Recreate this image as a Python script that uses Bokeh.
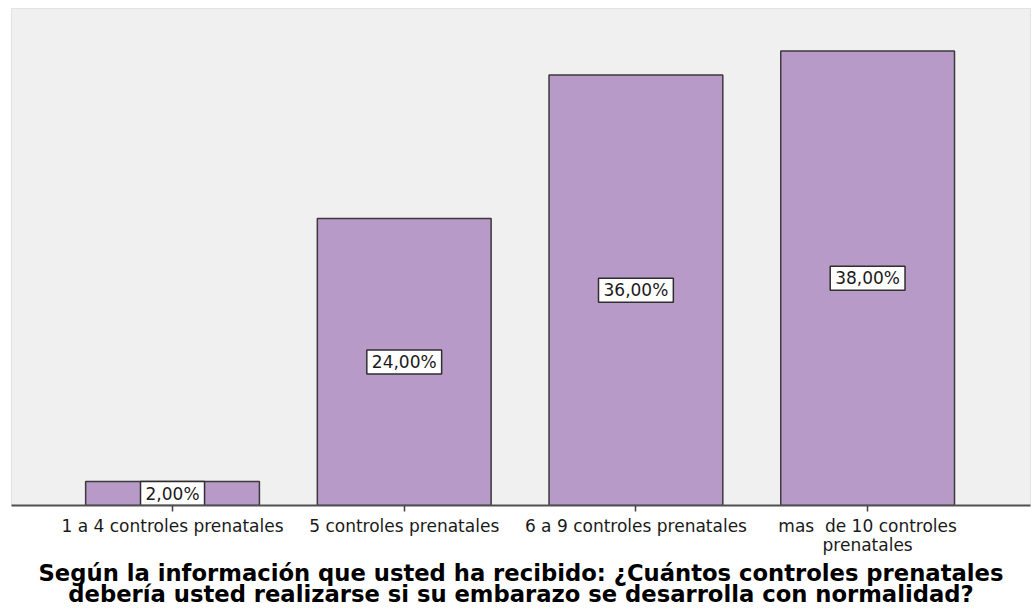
from bokeh.plotting import figure
from bokeh.models import ColumnDataSource, FixedTicker, Range1d
from bokeh.core.properties import value
from bokeh.embed import file_html
from bokeh.resources import INLINE

# Survey answers: number of prenatal check-ups considered necessary
categories = [
    "1 a 4 controles prenatales",
    "5 controles prenatales",
    "6 a 9 controles prenatales",
    "mas\u00a0 de 10 controles\nprenatales",
]
percentages = [2.0, 24.0, 36.0, 38.0]

title_lines = [
    "Según la información que usted ha recibido: ¿Cuántos controles prenatales",
    "debería usted realizarse si su embarazo se desarrolla con normalidad?",
]

positions = list(range(len(categories)))
labels = [f"{v:.2f}".replace(".", ",") + "%" for v in percentages]

source = ColumnDataSource(data=dict(
    x=positions,
    top=percentages,
    mid=[v / 2 for v in percentages],
    label=labels,
))

p = figure(
    width=1032, height=616,
    x_range=Range1d(-0.695, 3.703),
    y_range=Range1d(0, 41.55),
    output_backend="svg",
    toolbar_location=None,
    min_border_left=11, min_border_right=2,
    min_border_top=8, min_border_bottom=111,
)

p.background_fill_color = "#f0f0f0"
p.border_fill_color = "#ffffff"
p.outline_line_color = "#e2e2e2"
p.outline_line_width = 1
p.grid.visible = False
p.yaxis.visible = False

p.vbar(x="x", top="top", bottom=0, width=0.75, source=source,
       fill_color="#b89ac8", line_color="#3a3a3a", line_width=1.5)

# value labels in white boxes, centred halfway up each bar
p.text(
    x="x", y="mid", text="label", source=source,
    text_align="center", text_baseline="middle",
    text_font=value("DejaVu Sans"), text_font_size="17px", text_color="#1a1a1a",
    background_fill_color="#ffffff", border_line_color="#2e2e2e",
    border_line_width=1.5, padding=dict(left=5, right=5, top=2, bottom=2),
)

xa = p.xaxis[0]
xa.ticker = FixedTicker(ticks=positions)
xa.major_label_overrides = {i: c for i, c in zip(positions, categories)}
xa.minor_tick_line_color = None
xa.axis_line_color = "#505050"
xa.axis_line_width = 2
xa.major_tick_line_color = "#404040"
xa.major_tick_line_width = 1.5
xa.major_tick_in = 0
xa.major_tick_out = 6
xa.major_label_standoff = 4
xa.major_label_text_font = "DejaVu Sans"
xa.major_label_text_font_size = "17px"
xa.major_label_text_color = "#1a1a1a"
xa.major_label_text_line_height = 0.95
xa.axis_label = "\n".join(title_lines)
xa.axis_label_standoff = 2
xa.axis_label_text_font = "DejaVu Sans"
xa.axis_label_text_font_style = "bold"
xa.axis_label_text_font_size = "22.7px"
xa.axis_label_text_color = "#000000"
xa.axis_label_text_line_height = 0.84

open("out.html", "w").write(file_html(p, INLINE))
